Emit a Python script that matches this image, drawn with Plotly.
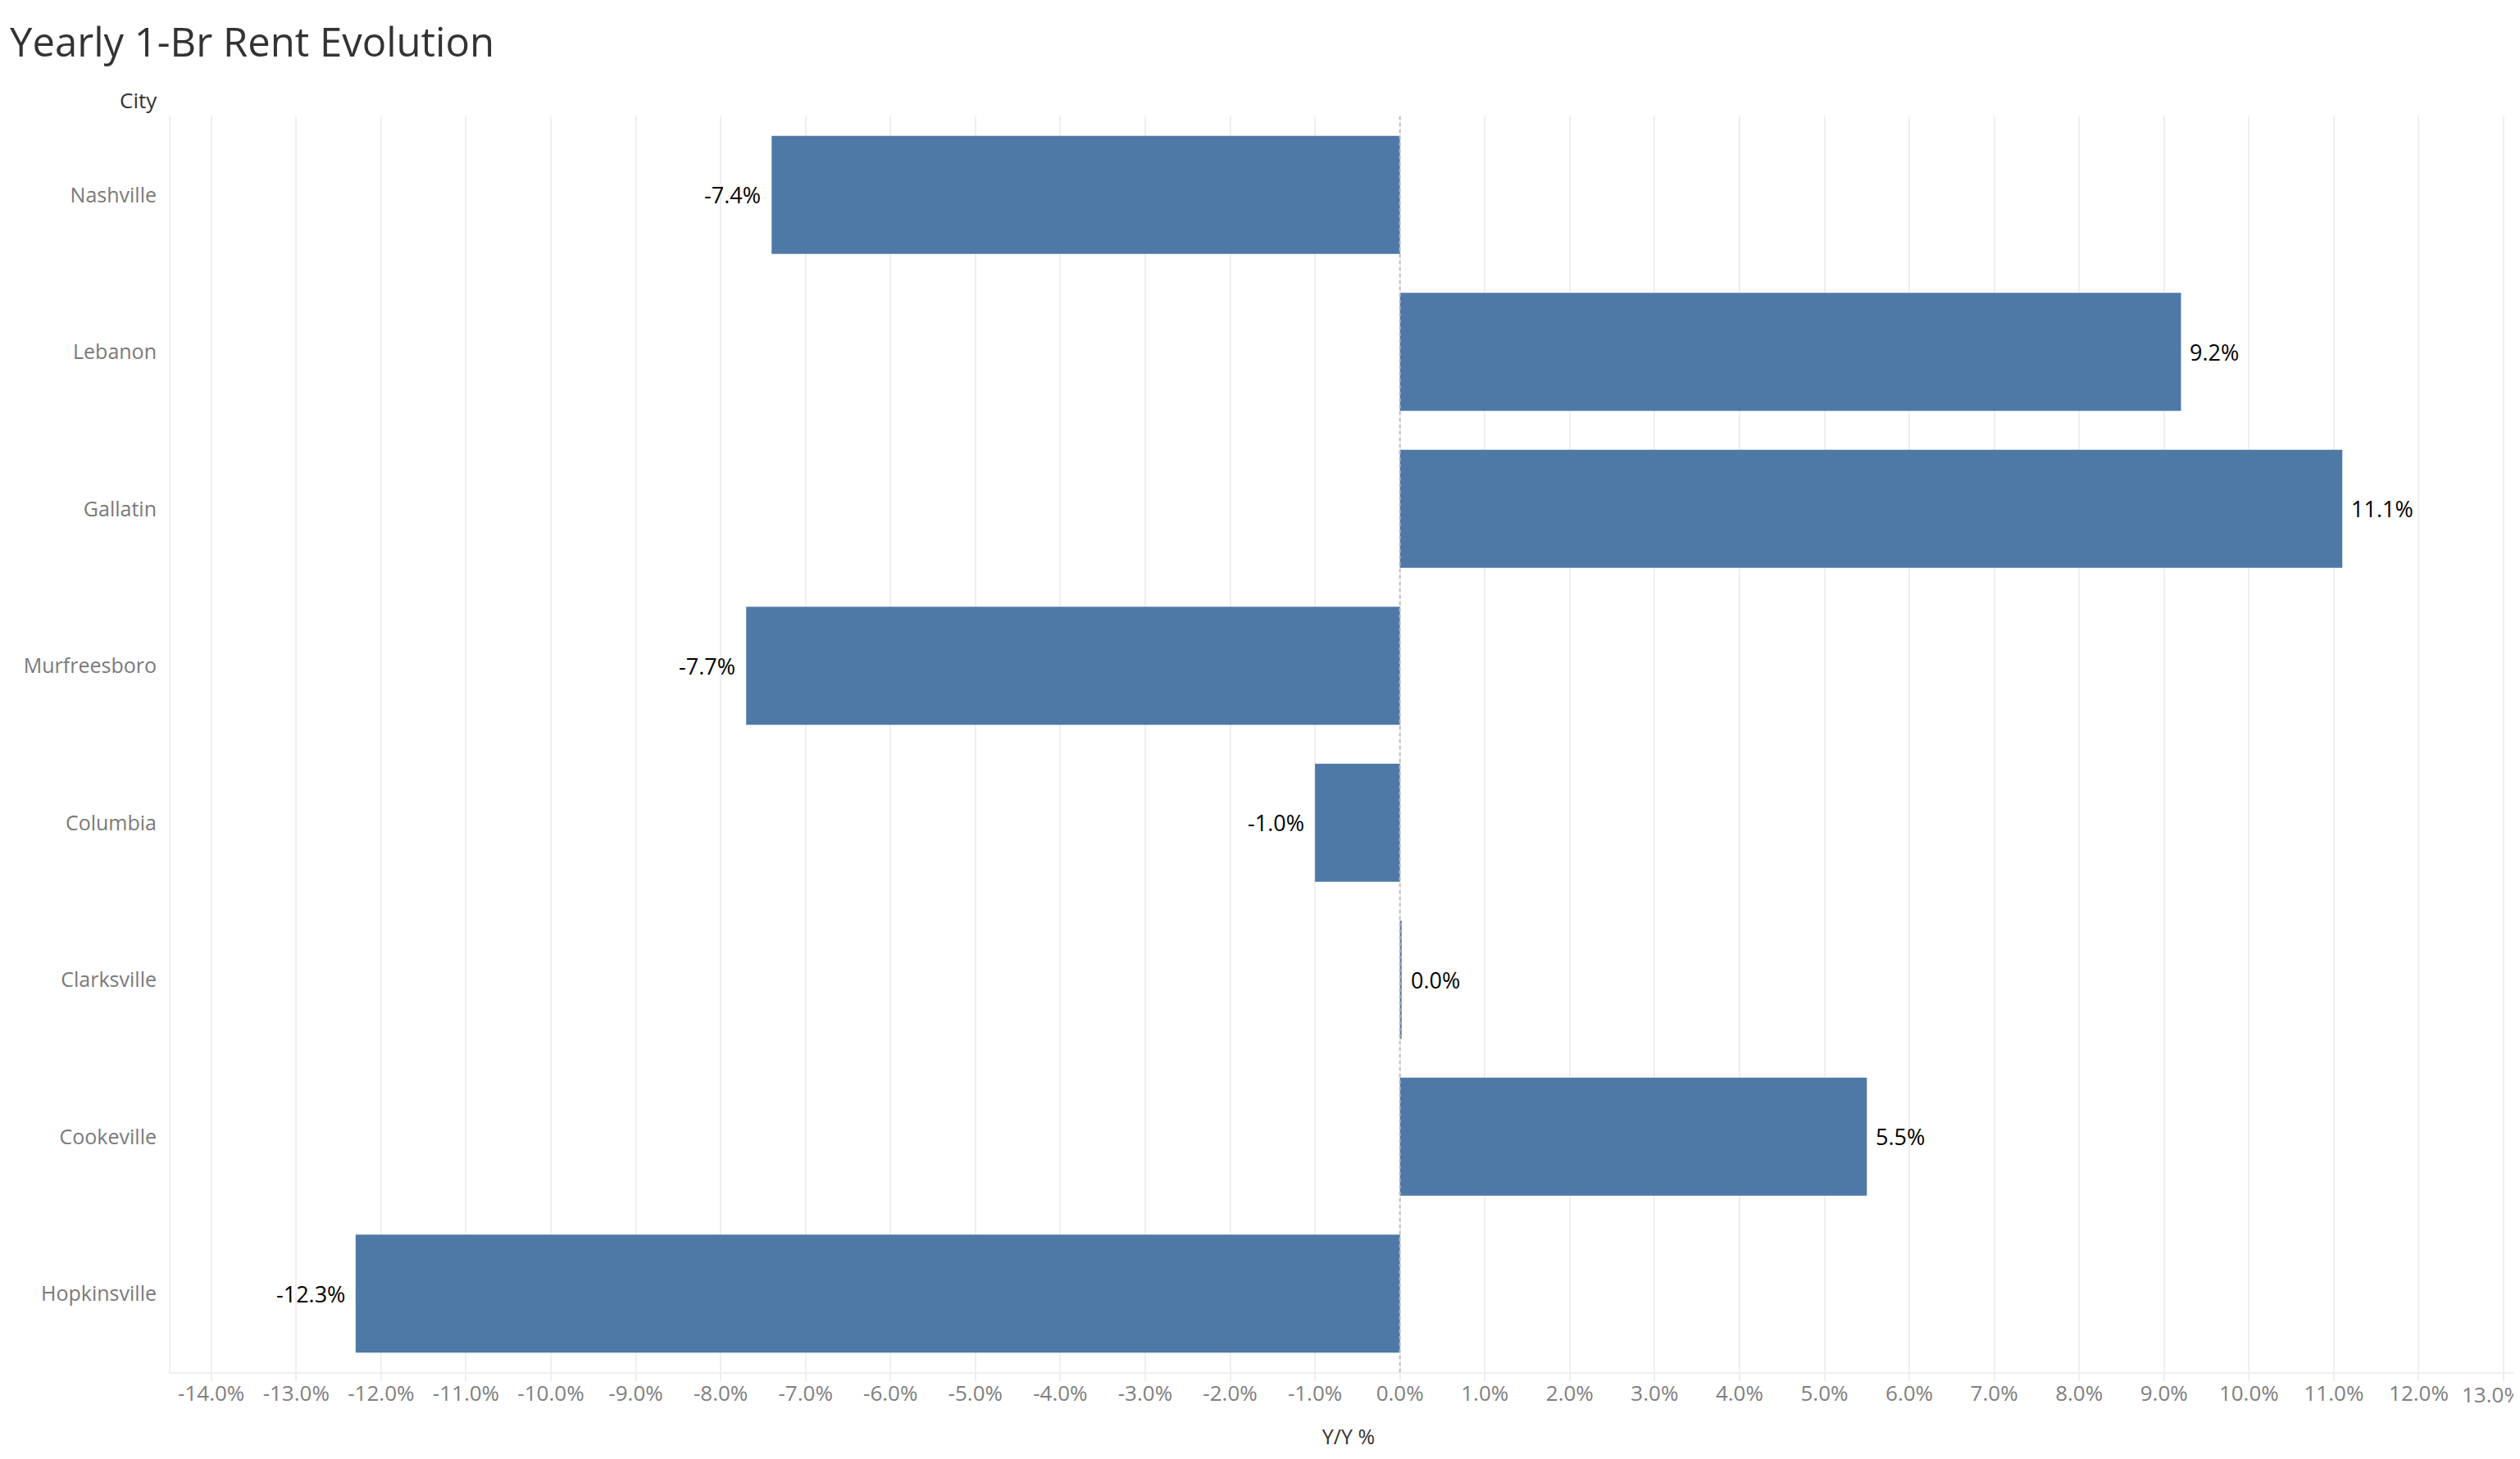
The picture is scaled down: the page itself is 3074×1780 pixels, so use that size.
import plotly.graph_objects as go

cities = ["Nashville", "Lebanon", "Gallatin", "Murfreesboro", "Columbia",
          "Clarksville", "Cookeville", "Hopkinsville"]
yoy_pct = [-7.4, 9.2, 11.1, -7.7, -1.0, 0.02, 5.5, -12.3]

tick_vals = list(range(-14, 14))
tick_labels = [f"{v:.1f}%" for v in tick_vals]

title_text = "Yearly 1-Br Rent Evolution"
x_title = "Y/Y %"
y_header = "City"

BAR = "#4E79A7"
GRID = "#efefef"
FONT = "Open Sans"
TICK_FONT = dict(family=FONT, size=26, color="#808080")

# the last tick label sits at the right page edge: draw it as a right-aligned
# annotation at its tick value so it stays inside the page
axis_text = list(tick_labels[:-1]) + [""]

fig = go.Figure()
fig.add_trace(go.Bar(
    x=yoy_pct, y=cities, orientation="h",
    marker=dict(color=BAR, line=dict(width=0)),
    hoverinfo="skip",
))

for v, c in zip(yoy_pct, cities):
    fig.add_annotation(
        x=v, y=c, xref="x", yref="y",
        text=f"{v:.1f}%",
        showarrow=False,
        xanchor="left" if v >= 0 else "right",
        xshift=9 if v >= 0 else -11,
        font=dict(family=FONT, size=27, color="#000000"),
    )

fig.add_annotation(
    x=tick_vals[-1], y=0, xref="x", yref="paper",
    text=tick_labels[-1], showarrow=False,
    xanchor="right", yanchor="middle", xshift=24, yshift=-27,
    font=TICK_FONT,
)

fig.add_shape(type="line", xref="x", yref="paper", x0=0, x1=0, y0=0, y1=1,
              line=dict(color="#bdbdbd", width=2, dash="4px,4px"), layer="above")

fig.add_annotation(
    text=y_header, xref="paper", yref="paper", x=0, y=1,
    xanchor="right", yanchor="middle", xshift=-14, yshift=20,
    showarrow=False, font=dict(family=FONT, size=26, color="#333333"),
)

fig.update_layout(
    width=3074, height=1780,
    paper_bgcolor="white", plot_bgcolor="white",
    margin=dict(l=200, r=0, t=134, b=114),
    bargap=0.248,
    showlegend=False,
    font=dict(family=FONT, color="#333333"),
    title=dict(text=title_text, x=4/3074, xref="container", xanchor="left",
               y=1-44/1780, yref="container", yanchor="middle",
               font=dict(family=FONT, size=49, color="#333333")),
    xaxis=dict(
        range=[-14.48, 13.27],
        tickmode="array", tickvals=tick_vals, ticktext=axis_text,
        showgrid=True, gridcolor=GRID, gridwidth=2,
        zeroline=False,
        showline=True, linecolor=GRID, linewidth=2,
        ticks="outside", ticklen=9, tickcolor=GRID, tickwidth=2,
        ticklabelstandoff=-7,
        tickfont=TICK_FONT,
        title=dict(text=x_title, standoff=28,
                   font=dict(family=FONT, size=25, color="#333333")),
        fixedrange=True,
    ),
    yaxis=dict(
        categoryorder="array", categoryarray=cities, autorange="reversed",
        showgrid=False, zeroline=False,
        showline=True, linecolor=GRID, linewidth=2,
        ticks="", ticklabelstandoff=10,
        tickfont=dict(family=FONT, size=25, color="#7a7a7a"),
        fixedrange=True,
    ),
)

fig.write_html("out.html")
